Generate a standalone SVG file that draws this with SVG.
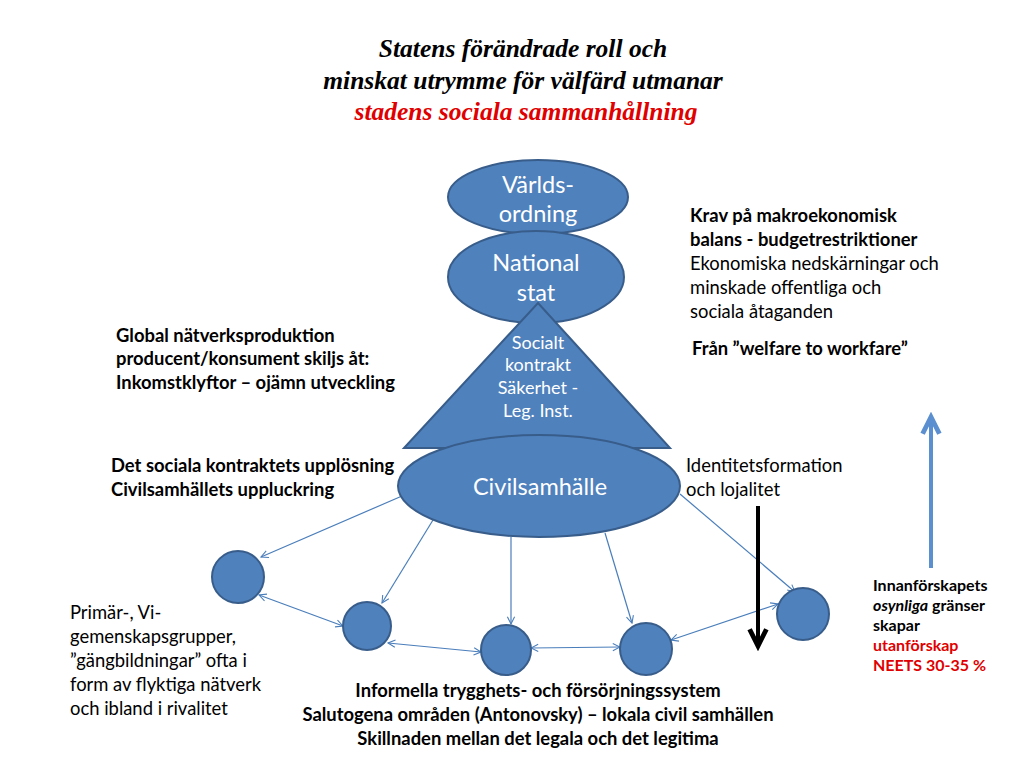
<svg xmlns="http://www.w3.org/2000/svg" width="1024" height="768" viewBox="0 0 1024 768">
<style>
.title{font-family:"Liberation Serif",serif;font-weight:bold;font-style:italic;font-size:25.5px;text-anchor:middle}
.shape{fill:#4f81bd;stroke:#385d8a;stroke-width:2}
.wt{font-family:Lato,"Liberation Sans",sans-serif;fill:#fff;text-anchor:middle}
.t{font-family:Lato,"Liberation Sans",sans-serif;font-size:18.4px;fill:#000}
.s{font-size:16px}
.b{font-weight:bold}
.c{text-anchor:middle}
.red{fill:#e00000}
.conn{stroke:#4a7ebb;stroke-width:1.2;fill:none}
</style>
<defs>
<marker id="ah" viewBox="0 0 10 10" refX="9" refY="5" markerWidth="9" markerHeight="9" orient="auto-start-reverse" markerUnits="userSpaceOnUse">
<path d="M1,1 L9,5 L1,9" fill="none" stroke="#4a7ebb" stroke-width="1.2"/>
</marker>
<marker id="bk" viewBox="0 0 10 10" refX="8" refY="5" markerWidth="6" markerHeight="6" orient="auto">
<path d="M1,1.5 L8,5 L1,8.5" fill="none" stroke="#000" stroke-width="2"/>
</marker>
<marker id="bl" viewBox="0 0 10 10" refX="8" refY="5" markerWidth="6" markerHeight="6" orient="auto">
<path d="M1,1.5 L8,5 L1,8.5" fill="none" stroke="#5b8fcf" stroke-width="2"/>
</marker>
</defs>
<rect width="1024" height="768" fill="#fff"/>
<g id="title">
<text class="title" x="523" y="57">Statens förändrade roll och</text>
<text class="title" x="523" y="89">minskat utrymme för välfärd utmanar</text>
<text class="title" x="526" y="120" fill="#e00000">stadens sociala sammanhållning</text>
</g>
<g id="connectors">
<line class="conn" x1="402" y1="496" x2="261" y2="557" marker-end="url(#ah)"/>
<line class="conn" x1="433" y1="520" x2="382" y2="603" marker-end="url(#ah)"/>
<line class="conn" x1="511" y1="537" x2="511" y2="624" marker-end="url(#ah)"/>
<line class="conn" x1="605" y1="533" x2="632" y2="623" marker-end="url(#ah)"/>
<line class="conn" x1="680" y1="494" x2="795" y2="592" marker-end="url(#ah)"/>
<line class="conn" x1="259" y1="595" x2="343" y2="626" marker-start="url(#ah)" marker-end="url(#ah)"/>
<line class="conn" x1="388" y1="643" x2="481" y2="652" marker-start="url(#ah)" marker-end="url(#ah)"/>
<line class="conn" x1="531" y1="648" x2="620" y2="647" marker-start="url(#ah)" marker-end="url(#ah)"/>
<line class="conn" x1="671" y1="640" x2="778" y2="604" marker-start="url(#ah)" marker-end="url(#ah)"/>
<line x1="758" y1="506" x2="758" y2="646" stroke="#000" stroke-width="4" marker-end="url(#bk)"/>
<line x1="931" y1="568" x2="931" y2="417" stroke="#5b8fcf" stroke-width="4" marker-end="url(#bl)"/>
</g>
<g id="varldsordning">
<ellipse class="shape" cx="538" cy="197" rx="90" ry="37"/>
<text class="wt" x="538" y="193" font-size="23.5">Världs-</text>
<text class="wt" x="538" y="222" font-size="23.5">ordning</text>
</g>
<g id="nationalstat">
<ellipse class="shape" cx="536" cy="277" rx="88" ry="46"/>
<text class="wt" x="536" y="271" font-size="23.5">National</text>
<text class="wt" x="536" y="301" font-size="23.5">stat</text>
</g>
<g id="socialt-kontrakt">
<polygon class="shape" points="538,303 670,448 404,448"/>
<text class="wt" x="538" y="349" font-size="18">Socialt</text>
<text class="wt" x="538" y="371" font-size="18">kontrakt</text>
<text class="wt" x="538" y="394" font-size="18">Säkerhet -</text>
<text class="wt" x="538" y="417" font-size="18">Leg. Inst.</text>
</g>
<g id="civilsamhalle">
<ellipse class="shape" cx="539" cy="486" rx="141" ry="51"/>
<text class="wt" x="540" y="495" font-size="23.5">Civilsamhälle</text>
</g>
<g id="c1"><circle class="shape" cx="238" cy="577" r="26"/></g>
<g id="c2"><circle class="shape" cx="367" cy="626" r="24"/></g>
<g id="c3"><circle class="shape" cx="506" cy="650" r="25"/></g>
<g id="c4"><circle class="shape" cx="646" cy="649" r="26"/></g>
<g id="c5"><circle class="shape" cx="803" cy="614" r="26"/></g>
<g id="labels">
<text class="t b" x="116" y="342">Global nätverksproduktion</text>
<text class="t b" x="116" y="365">producent/konsument skiljs åt:</text>
<text class="t b" x="116" y="389">Inkomstklyftor – ojämn utveckling</text>
<text class="t b" x="111" y="472">Det sociala kontraktets upplösning</text>
<text class="t b" x="111" y="496">Civilsamhällets uppluckring</text>
<text class="t" x="686" y="472">Identitetsformation</text>
<text class="t" x="686" y="496">och lojalitet</text>
<text class="t b" x="690" y="222">Krav på makroekonomisk</text>
<text class="t b" x="690" y="246">balans - budgetrestriktioner</text>
<text class="t" x="690" y="270">Ekonomiska nedskärningar och</text>
<text class="t" x="690" y="294">minskade offentliga och</text>
<text class="t" x="690" y="318">sociala åtaganden</text>
<text class="t b" x="692" y="355">Från ”welfare to workfare”</text>
<text class="t" x="70" y="619">Primär-, Vi-</text>
<text class="t" x="70" y="643">gemenskapsgrupper,</text>
<text class="t" x="70" y="667">”gängbildningar” ofta i</text>
<text class="t" x="70" y="691">form av flyktiga nätverk</text>
<text class="t" x="70" y="715">och ibland i rivalitet</text>
<text class="t b c" x="538" y="697">Informella trygghets- och försörjningssystem</text>
<text class="t b c" x="538" y="721">Salutogena områden (Antonovsky) – lokala civil samhällen</text>
<text class="t b c" x="538" y="745">Skillnaden mellan det legala och det legitima</text>
<text class="t s b" x="873" y="591">Innanförskapets</text>
<text class="t s b" x="873" y="611"><tspan font-style="italic">osynliga</tspan> gränser</text>
<text class="t s b" x="873" y="631">skapar</text>
<text class="t s b red" x="873" y="651">utanförskap</text>
<text class="t s b red" x="873" y="671">NEETS 30-35 %</text>
</g>
</svg>
